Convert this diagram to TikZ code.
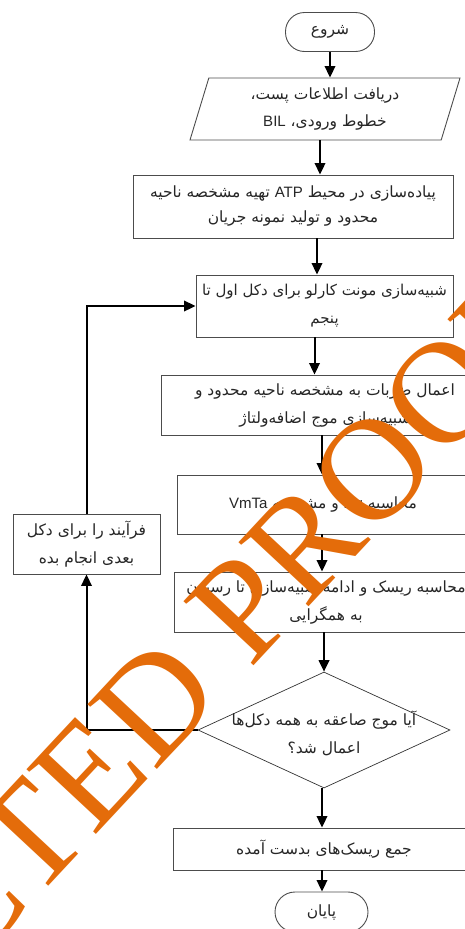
\documentclass[tikz,border=0pt]{standalone}
\usepackage{fontspec}
\setmainfont{Liberation Sans}[Scale=0.97]
\newfontfamily\farsi[Script=Arabic]{DejaVu Sans}
\newfontfamily\stampfont{Liberation Serif}
\TeXXeTstate=1
\usetikzlibrary{shapes.geometric,arrows.meta}
\newcommand{\fa}[1]{{\farsi\beginR #1\endR}}
\newcommand{\la}[1]{\beginL{\normalfont #1}\endL}
\definecolor{stampcol}{RGB}{228,108,10}
\tikzset{
  block/.style={draw=black!70, line width=0.9pt, rectangle, align=center,
    inner sep=2pt, text=black!85, font=\fontsize{15.5}{28}\selectfont},
  pill/.style={block, rounded corners=19pt},
  io/.style={block, trapezium, trapezium left angle=68, trapezium right angle=112,
    trapezium stretches body},
  check/.style={diamond, draw=black!80, line width=0.7pt, inner sep=0pt},
  arrow/.style={line width=2pt, -{Triangle[width=10.5pt,length=11.5pt]}}
}
\begin{document}
\begin{tikzpicture}[x=1pt,y=-1pt]
\useasboundingbox (0,0) rectangle (464,929);
% main column
\node[pill, minimum width=89pt, minimum height=39pt] (start) at (330,32) {\fa{شروع}};
\node[io, minimum width=270pt, minimum height=62pt, font=\fontsize{15.5}{27}\selectfont] (input) at (325,109)
  {\fa{دریافت اطلاعات پست،}\\\fa{خطوط ورودی، \la{BIL}}};
\node[block, minimum width=320pt, minimum height=63pt, font=\fontsize{15.5}{25}\selectfont] (atp) at (293,206.5)
  {\fa{پیاده‌سازی در محیط \la{ATP} تهیه مشخصه ناحیه}\\\fa{محدود و تولید نمونه جریان}};
\node[block, minimum width=257pt, minimum height=62pt, font=\fontsize{15}{28}\selectfont] (monte) at (324.5,306)
  {\fa{شبیه‌سازی مونت کارلو برای دکل اول تا}\\\fa{پنجم}};
\node[block, minimum width=328pt, minimum height=60pt] (strike) at (325,405)
  {\fa{اعمال ضربات به مشخصه ناحیه محدود و}\\\fa{شبیه‌سازی موج اضافه‌ولتاژ}};
\node[block, minimum width=292pt, minimum height=59pt] (dg) at (323,504.5)
  {\fa{محاسبه \la{Dg} و مشخصه \la{VmTa}}};
\node[block, minimum width=304pt, minimum height=60pt] (risk) at (326,602)
  {\fa{محاسبه ریسک و ادامه شبیه‌سازی تا رسیدن}\\\fa{به همگرایی}};
\node[check, minimum width=252pt, minimum height=116pt] (decide) at (324,730) {};
\node[align=center, text=black!85, font=\fontsize{15.5}{28}\selectfont] (decidetxt) at (324,733)
  {\fa{آیا موج صاعقه به همه دکل‌ها}\\\fa{اعمال شد؟}};
\node[block, minimum width=302pt, minimum height=42pt] (sum) at (324,849)
  {\fa{جمع ریسک‌های بدست آمده}};
\node[pill, minimum width=93pt, minimum height=40pt, rounded corners=20pt] (stop) at (321.5,912) {\fa{پایان}};
% loop back
\node[block, minimum width=147pt, minimum height=60pt] (next) at (86.5,544)
  {\fa{فرآیند را برای دکل}\\\fa{بعدی انجام بده}};

\draw[arrow] (start.south) -- (start.south |- input.north);
\draw[arrow] ([xshift=-5pt]input.south) -- ([xshift=-5pt]input.south |- atp.north);
\draw[arrow] ([xshift=24pt]atp.south) -- ([xshift=24pt]atp.south |- monte.north);
\draw[arrow] ([xshift=-10pt]monte.south) -- ([xshift=-10pt]monte.south |- strike.north);
\draw[arrow] ([xshift=-1pt]dg.north |- strike.south) -- ([xshift=-1pt]dg.north);
\draw[arrow] ([xshift=-1pt]dg.south) -- ([xshift=-1pt]dg.south |- risk.north);
\draw[arrow] (risk.south -| decide.north) -- (decide.north);
\draw[arrow] ([xshift=-2pt]decide.south) -- ([xshift=-2pt]decide.south |- sum.north);
\draw[arrow] ([xshift=-2pt]sum.south) -- ([xshift=-2pt]sum.south |- stop.north);
\draw[arrow] (decide.west) -| (next.south);
\draw[arrow] (next.north) |- (monte.west);

% proof stamp
\begin{scope}
\clip (0,0) rectangle (464,929);
\node[rotate=47, text=stampcol, anchor=base, inner sep=0pt,
  font=\stampfont\fontsize{145}{145}\selectfont] (stamp) at (32,904) {UNCORRECTED PROOF};
\end{scope}
\end{tikzpicture}
\end{document}
